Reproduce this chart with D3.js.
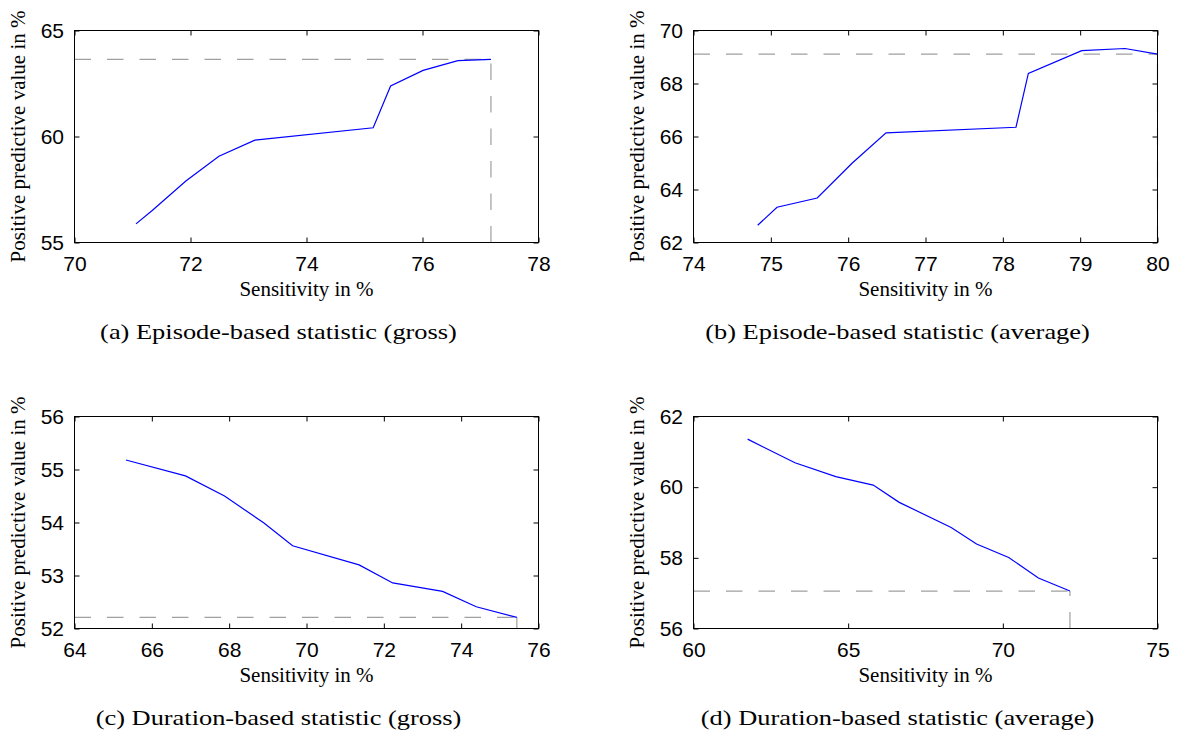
<!DOCTYPE html>
<html>
<head>
<meta charset="utf-8">
<script src="https://cdn.jsdelivr.net/npm/d3@7"></script>
<style>
  body { margin: 0; background: #fff; }
  svg { display: block; }
  .tick line { stroke: #000; }
  .box { fill: none; stroke: #000; stroke-width: 1; }
  .curve { fill: none; stroke: #0000ff; stroke-width: 1.2; }
  .guide { fill: none; stroke: #a0a0a0; stroke-width: 1.2; stroke-dasharray: 16.5 16; }
  .ax-label { font-family: "Liberation Serif", serif; font-size: 21px; fill: #000; }
  .caption { font-family: "Liberation Serif", serif; font-size: 22px; fill: #000; }
</style>
</head>
<body>
<svg id="chart" width="1181" height="738"></svg>
<script>
// (a) Episode-based statistic (gross)
const sensA = [71.06, 71.34, 71.92, 72.49, 73.11, 75.15, 75.45, 76.01, 76.61, 77.18]
const ppvA  = [55.88, 56.51, 57.90, 59.07, 59.83, 60.41, 62.38, 63.12, 63.58, 63.64]
// (b) Episode-based statistic (average)
const sensB = [74.83, 75.08, 75.60, 76.05, 76.49, 78.17, 78.33, 79.02, 79.58, 80.00]
const ppvB  = [62.65, 63.33, 63.68, 64.99, 66.14, 66.35, 68.38, 69.24, 69.32, 69.11]
// (c) Duration-based statistic (gross)
const sensC = [65.33, 66.87, 67.88, 68.90, 69.64, 71.36, 72.23, 73.52, 74.39, 75.44]
const ppvC  = [55.18, 54.88, 54.50, 53.99, 53.56, 53.20, 52.86, 52.70, 52.41, 52.21]
// (d) Duration-based statistic (average)
const sensD = [61.75, 63.28, 64.60, 65.81, 66.65, 68.33, 69.15, 70.19, 71.15, 72.17]
const ppvD  = [61.36, 60.69, 60.30, 60.06, 59.57, 58.86, 58.39, 58.01, 57.43, 57.06]

const xTicksA = [70, 72, 74, 76, 78]
const yTicksA = [55, 60, 65]
const xTicksB = [74, 75, 76, 77, 78, 79, 80]
const yTicksB = [62, 64, 66, 68, 70]
const xTicksC = [64, 66, 68, 70, 72, 74, 76]
const yTicksC = [52, 53, 54, 55, 56]
const xTicksD = [60, 65, 70, 75]
const yTicksD = [56, 58, 60, 62]

const captions = [
  '(a)  Episode-based statistic (gross)',
  '(b)  Episode-based statistic (average)',
  '(c)  Duration-based statistic (gross)',
  '(d)  Duration-based statistic (average)'
]

const xLabel = 'Sensitivity in %'
const yLabel = 'Positive predictive value in %'

const panels = [
  { sens: sensA, ppv: ppvA, xt: xTicksA, yt: yTicksA, left: 74.5, top: 30.5 },
  { sens: sensB, ppv: ppvB, xt: xTicksB, yt: yTicksB, left: 693.5, top: 30.5 },
  { sens: sensC, ppv: ppvC, xt: xTicksC, yt: yTicksC, left: 74.5, top: 416.5 },
  { sens: sensD, ppv: ppvD, xt: xTicksD, yt: yTicksD, left: 693.5, top: 416.5 }
]

const width = 464
const height = 212
const tickLen = 5

const svg = d3.select('#chart')

panels.forEach((p, index) => {
  const g = svg.append('g')
    .attr('transform', `translate(${p.left},${p.top})`)

  const x = d3.scaleLinear()
    .domain(d3.extent(p.xt))
    .range([0, width])

  const y = d3.scaleLinear()
    .domain(d3.extent(p.yt))
    .range([height, 0])

  const pts = p.sens.map((s, i) => [s, p.ppv[i]])
  const op = pts[pts.length - 1]

  // dashed guides to the operating point
  g.append('path')
    .attr('class', 'guide')
    .attr('d', d3.line()([[x(x.domain()[0]), y(op[1])], [x(op[0]), y(op[1])]]))

  g.append('path')
    .attr('class', 'guide')
    .attr('d', d3.line()([[x(op[0]), y(y.domain()[0])], [x(op[0]), y(op[1])]]))

  const lineGen = d3.line()
    .x(d => x(d[0]))
    .y(d => y(d[1]))

  g.append('path')
    .attr('class', 'curve')
    .attr('d', lineGen(pts))

  // axes, ticks pointing inward on all four sides
  const styleAxis = sel => {
    sel.select('.domain').remove()
    sel.selectAll('text')
      .attr('font-family', '"Liberation Sans", Arial, sans-serif')
      .attr('font-size', 21)
      .attr('fill', '#000')
  }

  g.append('g')
    .attr('transform', `translate(0,${height})`)
    .call(d3.axisBottom(x).tickValues(p.xt).tickSize(-tickLen).tickPadding(14).tickFormat(d3.format('d')))
    .call(styleAxis)

  g.append('g')
    .call(d3.axisTop(x).tickValues(p.xt).tickSize(-tickLen).tickFormat(''))
    .call(styleAxis)

  g.append('g')
    .call(d3.axisLeft(y).tickValues(p.yt).tickSize(-tickLen).tickPadding(10.5).tickFormat(d3.format('d')))
    .call(styleAxis)

  g.append('g')
    .attr('transform', `translate(${width},0)`)
    .call(d3.axisRight(y).tickValues(p.yt).tickSize(-tickLen).tickFormat(''))
    .call(styleAxis)

  g.append('rect')
    .attr('class', 'box')
    .attr('width', width)
    .attr('height', height)

  g.append('text')
    .attr('class', 'ax-label')
    .attr('x', width / 2)
    .attr('y', height + 53)
    .attr('text-anchor', 'middle')
    .text(xLabel)

  g.append('text')
    .attr('class', 'ax-label')
    .attr('transform', `translate(-50,${height / 2}) rotate(-90)`)
    .attr('text-anchor', 'middle')
    .text(yLabel)

  // caption, stretched a bit to mimic the wider LaTeX font
  g.append('g')
    .attr('transform', `translate(${204},${height + 96}) scale(1.2,1)`)
    .append('text')
    .attr('class', 'caption')
    .attr('text-anchor', 'middle')
    .text(captions[index])
})
</script>
</body>
</html>
